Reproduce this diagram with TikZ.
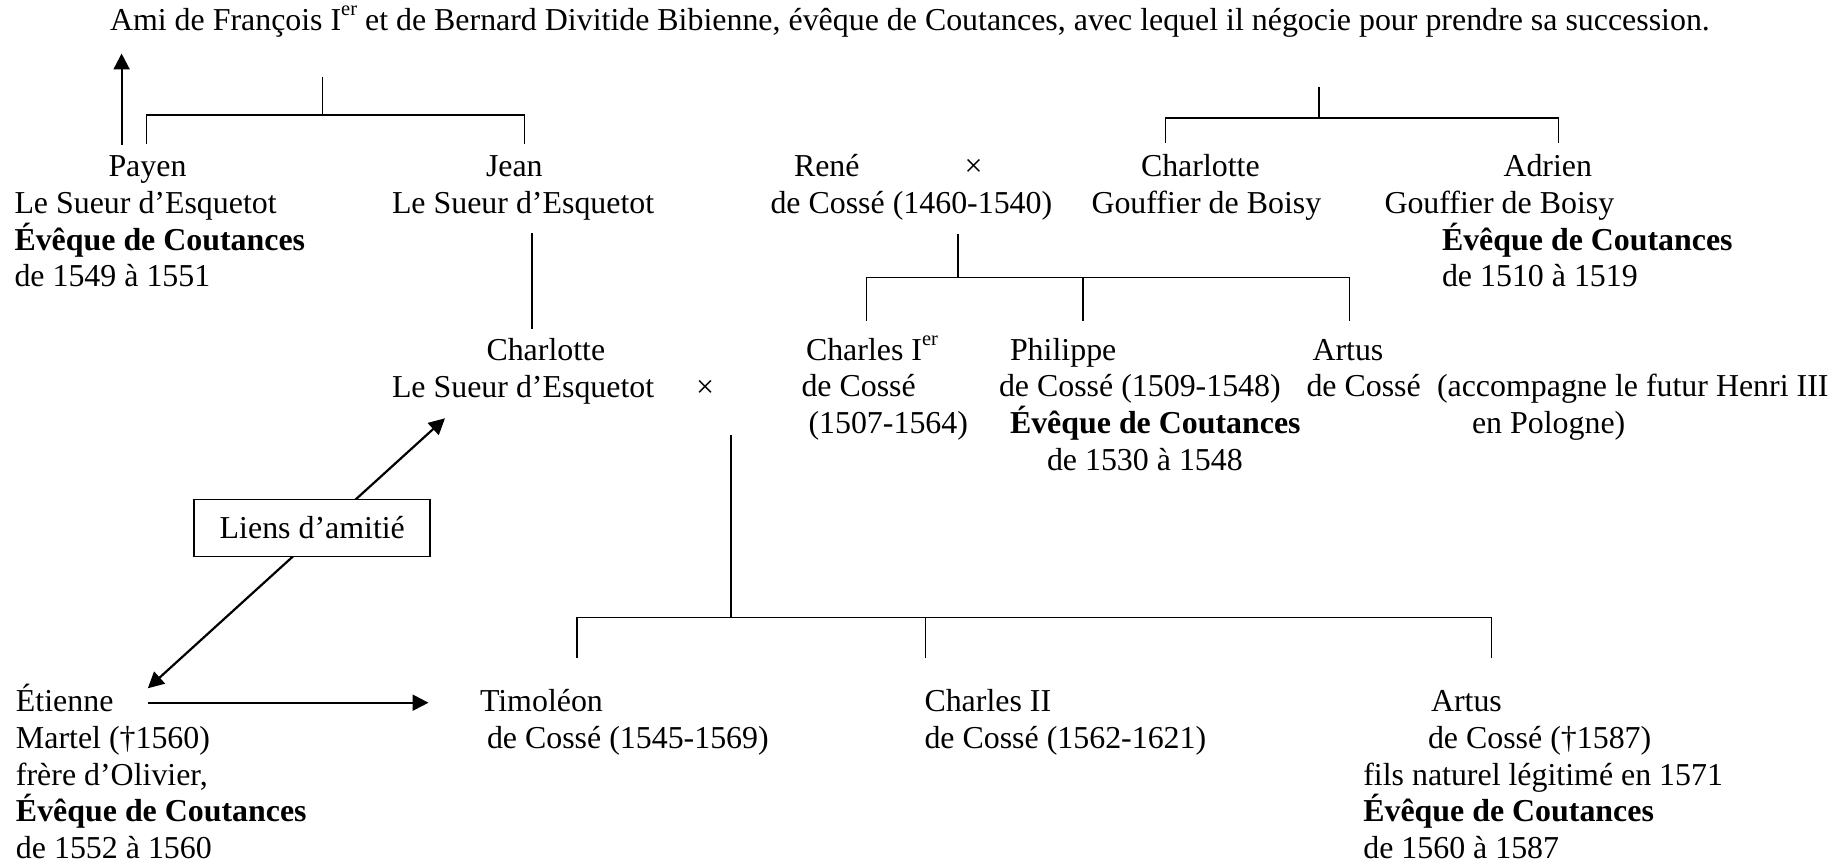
\documentclass[tikz,border=0pt]{standalone}
\usepackage{fontspec}
\setmainfont{Liberation Serif}
\usetikzlibrary{arrows.meta}
\newcommand\supx[1]{\raisebox{15pt}{\fontsize{20.5}{20.5}\selectfont #1}}
\tikzset{
  txt/.style={anchor=base west, inner sep=0pt, outer sep=0pt, font=\fontsize{31.9}{36.7}\selectfont},
  btxt/.style={txt, font=\fontsize{31.9}{36.7}\selectfont\bfseries},
  tree/.style={line width=1.6pt},
  arr/.style={line width=2.2pt, -{Triangle[width=16pt,length=16pt]}},
  darr/.style={line width=2.2pt, {Triangle[width=16pt,length=16pt]}-{Triangle[width=16pt,length=16pt]}},
  liensbox/.style={draw, line width=1.8pt, fill=white, minimum width=236pt, minimum height=57pt, inner sep=0pt, font=\fontsize{31.9}{36.7}\selectfont}
}
\begin{document}
\begin{tikzpicture}[x=1pt,y=-1pt]
\useasboundingbox (0,0) rectangle (1848,864);
% top line
\node[txt] (ami) at (110,31) {Ami de François I\supx{er} et de Bernard Divitide Bibienne, évêque de Coutances, avec lequel il négocie pour prendre sa succession.};
% Payen
\node[txt] (payen1) at (108.5,176.7) {Payen};
\node[txt] (payen2) at (14.5,213.3) {Le Sueur d’Esquetot};
\node[btxt] (payen3) at (14.5,250) {Évêque de Coutances};
\node[txt] (payen4) at (14.5,286.7) {de 1549 à 1551};
% Jean
\node[txt] (jean1) at (486,176.7) {Jean};
\node[txt] (jean2) at (392,213.3) {Le Sueur d’Esquetot};
% Charlotte LS
\node[txt] (cls1) at (486.5,360.7) {Charlotte};
\node[txt] (cls2) at (392,397.3) {Le Sueur d’Esquetot};
\node[txt] (x1) at (696,397.3) {×};
% René
\node[txt] (rene1) at (794,176.7) {René};
\node[txt] (x2) at (964.5,176.7) {×};
\node[txt] (rene2) at (770.5,213.3) {de Cossé (1460-1540)};
% Charlotte Gouffier
\node[txt] (cg1) at (1141,176.7) {Charlotte};
\node[txt] (cg2) at (1091.5,213.3) {Gouffier de Boisy};
% Adrien
\node[txt] (ad1) at (1503.5,176.7) {Adrien};
\node[txt] (ad2) at (1384.5,213.3) {Gouffier de Boisy};
\node[btxt] (ad3) at (1442,250) {Évêque de Coutances};
\node[txt] (ad4) at (1442,286.7) {de 1510 à 1519};
% Charles Ier
\node[txt] (c1a) at (806,360) {Charles I\supx{er}};
\node[txt] (c1b) at (801.5,396.7) {de Cossé};
\node[txt] (c1c) at (808.5,433.3) {(1507-1564)};
% Philippe
\node[txt] (ph1) at (1010,360) {Philippe};
\node[txt] (ph2) at (999,396.7) {de Cossé (1509-1548)};
\node[btxt] (ph3) at (1010,433.3) {Évêque de Coutances};
\node[txt] (ph4) at (1047,470) {de 1530 à 1548};
% Artus (1)
\node[txt] (ar1) at (1312.5,360) {Artus};
\node[txt] (ar2) at (1306.5,396.7) {de Cossé};
\node[txt] (ar3) at (1437,396.7) {(accompagne le futur Henri III};
\node[txt] (ar4) at (1472,433.3) {en Pologne)};
% Etienne
\node[txt] (et1) at (16,711.7) {Étienne};
\node[txt] (et2) at (16,748) {Martel (†1560)};
\node[txt] (et3) at (16,785) {frère d’Olivier,};
\node[btxt] (et4) at (16,821.7) {Évêque de Coutances};
\node[txt] (et5) at (16,858.3) {de 1552 à 1560};
% Timoleon
\node[txt] (ti1) at (480,711.7) {Timoléon};
\node[txt] (ti2) at (487,748) {de Cossé (1545-1569)};
% Charles II
\node[txt] (c2a) at (924.5,711.7) {Charles II};
\node[txt] (c2b) at (924.5,748) {de Cossé (1562-1621)};
% Artus (2)
\node[txt] (as1) at (1431,711.7) {Artus};
\node[txt] (as2) at (1428,748) {de Cossé (†1587)};
\node[txt] (as3) at (1363.3,785) {fils naturel légitimé en 1571};
\node[btxt] (as4) at (1363.3,821.7) {Évêque de Coutances};
\node[txt] (as5) at (1363.3,858.3) {de 1560 à 1587};

% coordinates
\coordinate (upA) at (121.6,145);
\coordinate (upB) at (121.6,53.5);
\coordinate (t1a) at (322.3,76.7);
\coordinate (t1b) at (322.3,115);
\coordinate (t1l) at (146.4,144);
\coordinate (t1r) at (524.5,144);
\coordinate (jv1) at (532,233.3);
\coordinate (jv2) at (532,329.3);
\coordinate (mv1) at (731,435);
\coordinate (mv2) at (731,617.5);
\coordinate (b1) at (577,658.3);
\coordinate (b2) at (925.4,658.3);
\coordinate (b3) at (1491.3,658.3);
\coordinate (rv1) at (958,234);
\coordinate (rv2) at (958,277.3);
\coordinate (r1) at (866.5,320.7);
\coordinate (r2) at (1083,320.7);
\coordinate (r3) at (1349.5,320.7);
\coordinate (t2a) at (1319.2,86.7);
\coordinate (t2b) at (1319.2,118.3);
\coordinate (t2l) at (1165.6,143.3);
\coordinate (t2r) at (1558.6,143.3);
\coordinate (la) at (147.8,688.3);
\coordinate (lb) at (445,418.3);
\coordinate (ha) at (148,702.7);
\coordinate (hb) at (428.5,702.7);

% arrows
\draw[arr] (upA) -- (upB);
\draw[arr] (ha) -- (hb);
\draw[darr] (la) -- (lb);
\node[liensbox] (liens) at (312.3,528) {\raisebox{-5pt}{Liens d’amitié}};

% trees
\draw[tree] (t1a) -- (t1b);
\draw[tree] (t1l) |- (t1b) -| (t1r);
\draw[tree] (jv1) -- (jv2);
\draw[tree] (rv1) -- (rv2);
\draw[tree] (r1) |- (rv2) -| (r3);
\draw[tree] (r2) -- (r2 |- rv2);
\draw[tree] (t2a) -- (t2b);
\draw[tree] (t2l) |- (t2b) -| (t2r);
\draw[tree] (mv1) -- (mv2);
\draw[tree] (b1) |- (mv2) -| (b3);
\draw[tree] (b2) -- (b2 |- mv2);
\end{tikzpicture}
\end{document}
